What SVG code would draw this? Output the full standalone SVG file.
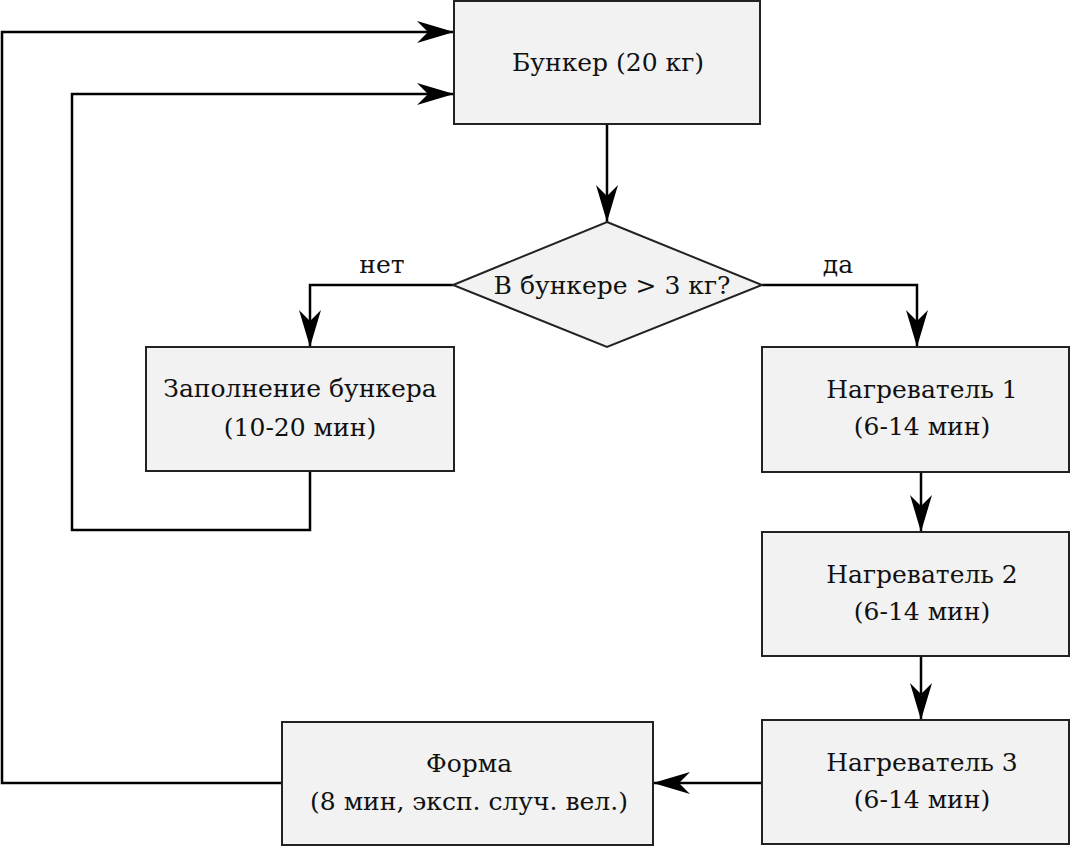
<svg xmlns="http://www.w3.org/2000/svg" width="1070" height="847" viewBox="0 0 1070 847">
<defs>
<style>
.box{fill:#f2f2f2;stroke:#222;stroke-width:2}
.ln{fill:none;stroke:#000;stroke-width:2.5}
</style>
<marker id="ah" viewBox="-38 -12 40 24" markerWidth="40" markerHeight="24" refX="0" refY="0" orient="auto" markerUnits="userSpaceOnUse">
<path d="M0,0 L-37,-11 L-26,0 L-37,11 Z" fill="#000"/>
</marker>
</defs>
<g id="connectors">
<path class="ln" d="M607,124 V222" marker-end="url(#ah)"/>
<path class="ln" d="M453,285 H310 V347" marker-end="url(#ah)"/>
<path class="ln" d="M762,285 H917 V347" marker-end="url(#ah)"/>
<path class="ln" d="M310,471 V530 H72 V94 H454" marker-end="url(#ah)"/>
<path class="ln" d="M921,472 V532" marker-end="url(#ah)"/>
<path class="ln" d="M921,656 V720" marker-end="url(#ah)"/>
<path class="ln" d="M762,783 H653" marker-end="url(#ah)"/>
<path class="ln" d="M282,783 H2 V32 H454" marker-end="url(#ah)"/>
<text x="382" y="273" font-family="DejaVu Serif, serif" font-size="25" fill="#111" text-anchor="middle">нет</text>
<text x="838" y="273" font-family="DejaVu Serif, serif" font-size="25" fill="#111" text-anchor="middle">да</text>
</g>
<g id="bunker">
<rect class="box" x="454" y="1" width="306" height="123"/>
<text x="608" y="71" font-family="DejaVu Serif, serif" font-size="25" fill="#111" text-anchor="middle">Бункер (20 кг)</text>
</g>
<g id="decision">
<polygon class="box" points="607,222 762,285 607,347 453,285"/>
<text x="612" y="294" font-family="DejaVu Serif, serif" font-size="25" fill="#111" text-anchor="middle">В бункере &gt; 3 кг?</text>
</g>
<g id="fill">
<rect class="box" x="146" y="347" width="308" height="124"/>
<text x="300" y="397" font-family="DejaVu Serif, serif" font-size="25" fill="#111" text-anchor="middle">Заполнение бункера</text>
<text x="300" y="436" font-family="DejaVu Serif, serif" font-size="25" fill="#111" text-anchor="middle">(10-20 мин)</text>
</g>
<g id="heater1">
<rect class="box" x="762" y="347" width="307" height="125"/>
<text x="922" y="398" font-family="DejaVu Serif, serif" font-size="25" fill="#111" text-anchor="middle">Нагреватель 1</text>
<text x="922" y="435" font-family="DejaVu Serif, serif" font-size="25" fill="#111" text-anchor="middle">(6-14 мин)</text>
</g>
<g id="heater2">
<rect class="box" x="762" y="532" width="307" height="124"/>
<text x="922" y="583" font-family="DejaVu Serif, serif" font-size="25" fill="#111" text-anchor="middle">Нагреватель 2</text>
<text x="922" y="620" font-family="DejaVu Serif, serif" font-size="25" fill="#111" text-anchor="middle">(6-14 мин)</text>
</g>
<g id="heater3">
<rect class="box" x="762" y="720" width="307" height="124"/>
<text x="922" y="771" font-family="DejaVu Serif, serif" font-size="25" fill="#111" text-anchor="middle">Нагреватель 3</text>
<text x="922" y="808" font-family="DejaVu Serif, serif" font-size="25" fill="#111" text-anchor="middle">(6-14 мин)</text>
</g>
<g id="form">
<rect class="box" x="282" y="722" width="371" height="123"/>
<text x="469" y="772" font-family="DejaVu Serif, serif" font-size="25" fill="#111" text-anchor="middle">Форма</text>
<text x="469" y="810" font-family="DejaVu Serif, serif" font-size="25" fill="#111" text-anchor="middle">(8 мин, эксп. случ. вел.)</text>
</g>
</svg>
